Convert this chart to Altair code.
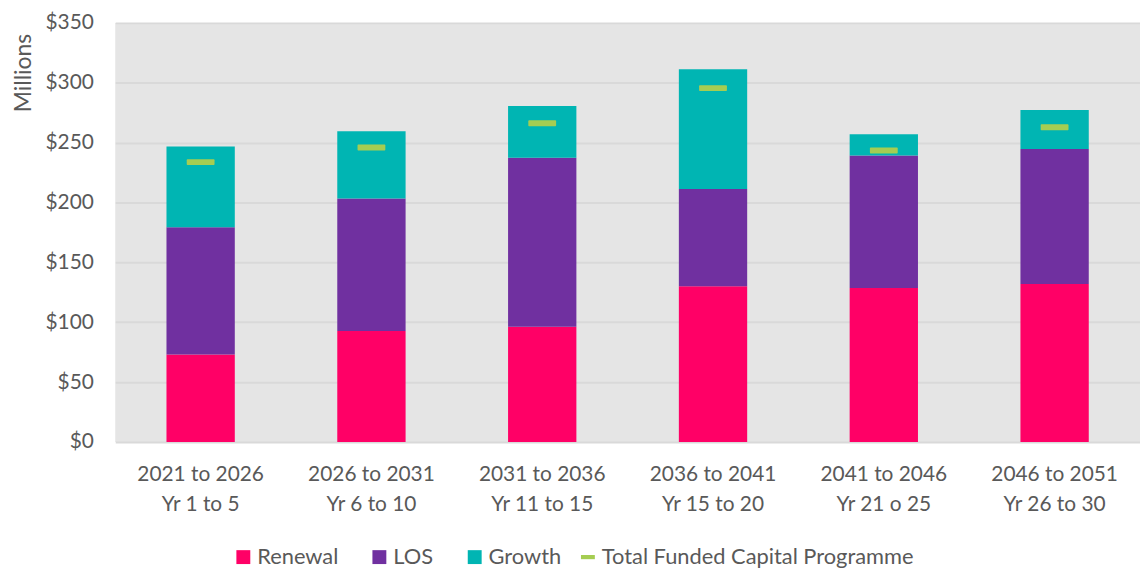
import altair as alt
import pandas as pd

periods = [
    "2021 to 2026|Yr 1 to 5",
    "2026 to 2031|Yr 6 to 10",
    "2031 to 2036|Yr 11 to 15",
    "2036 to 2041|Yr 15 to 20",
    "2041 to 2046|Yr 21 o 25",
    "2046 to 2051|Yr 26 to 30",
]
series = ["Renewal", "LOS", "Growth"]
colors = ["#FF0066", "#7030A0", "#00B5B3"]
renewal = [73.1, 92.6, 96.2, 130.1, 128.5, 131.8]
los = [106.3, 110.8, 141.1, 81.1, 110.8, 112.9]
growth = [67.3, 56.0, 43.3, 100.0, 17.6, 32.6]
total_funded = [233.7, 246.0, 266.2, 295.5, 243.4, 262.9]
total_label = "Total Funded Capital Programme"
total_color = "#A5CD52"
y_ticks = [0, 50, 100, 150, 200, 250, 300, 350]

rows = []
for i, p in enumerate(periods):
    for k, (s, vals) in enumerate(zip(series, [renewal, los, growth])):
        rows.append({"period": p, "series": s, "order": k, "value": vals[i]})
bars_df = pd.DataFrame(rows)
tot_df = pd.DataFrame({"period": periods, "total": total_funded, "label": [total_label] * len(periods)})

FONT = "Lato"
GREY = "#595959"

x_enc = alt.X(
    "period:N",
    sort=periods,
    title=None,
    scale=alt.Scale(paddingInner=0.6, paddingOuter=0.3),
    axis=alt.Axis(
        labelExpr="split(datum.label, '|')",
        labelAngle=0,
        labelFontSize=21,
        labelFont=FONT,
        labelColor=GREY,
        labelLineHeight=30,
        labelPadding=22,
        ticks=False,
        domain=False,
        grid=False,
    ),
)

bars = alt.Chart(bars_df).mark_bar().encode(
    x=x_enc,
    y=alt.Y(
        "value:Q",
        stack="zero",
        scale=alt.Scale(domain=[0, 350], nice=False),
        axis=alt.Axis(
            values=y_ticks,
            labelExpr="'$' + datum.value",
            labelFontSize=21,
            labelFont=FONT,
            labelColor=GREY,
            labelPadding=22,
            ticks=False,
            domain=False,
            gridColor="#D9D9D9",
            gridWidth=2,
            title="Millions",
            titleFont=FONT,
            titleFontSize=23,
            titleFontWeight="normal",
            titleColor=GREY,
            titleAngle=-90,
            titleX=-92,
            titleY=50,
            titleAlign="center",
            titleBaseline="middle",
        ),
    ),
    color=alt.Color(
        "series:N",
        scale=alt.Scale(domain=series, range=colors),
        legend=alt.Legend(
            orient="none",
            legendX=118,
            legendY=527,
            direction="horizontal",
            title=None,
            symbolType="square",
            symbolSize=196,
            symbolStrokeWidth=0,
            labelFontSize=22,
            labelFont=FONT,
            labelColor=GREY,
            labelOffset=3,
            labelLimit=0,
            columnPadding=30,
        ),
    ),
    order=alt.Order("order:Q", sort="ascending"),
)

ticks = alt.Chart(tot_df).mark_tick(size=28, thickness=6, cornerRadius=1, opacity=1).encode(
    x=alt.X("period:N", sort=periods),
    y=alt.Y("total:Q"),
    color=alt.Color(
        "label:N",
        scale=alt.Scale(domain=[total_label], range=[total_color]),
        legend=alt.Legend(
            orient="none",
            legendX=465,
            legendY=527,
            direction="horizontal",
            title=None,
            symbolType="M-1,-0.3H1V0.3H-1Z",
            symbolSize=196,
            symbolStrokeWidth=0,
            labelFontSize=22,
            labelFont=FONT,
            labelColor=GREY,
            labelOffset=3,
            labelLimit=0,
        ),
    ),
)

chart = (
    alt.layer(bars, ticks)
    .resolve_scale(color="independent")
    .properties(
        width=1032,
        height=422,
        autosize=alt.AutoSizeParams(type="none"),
        padding={"left": 108, "top": 13, "right": 0, "bottom": 128},
        background="white",
    )
    .configure_view(fill="#E5E5E5", stroke=None)
)

chart.save("out.html", embed_options={"renderer": "svg", "actions": False})
